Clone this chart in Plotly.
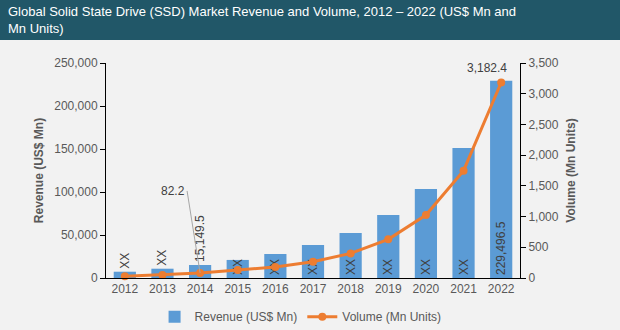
import plotly.graph_objects as go

years = ["2012", "2013", "2014", "2015", "2016", "2017", "2018", "2019", "2020", "2021", "2022"]
revenue = [7300, 10800, 15149.5, 21000, 27900, 38400, 52300, 73300, 103500, 151200, 229496.5]
volume = [30, 50, 82.2, 130, 180, 265, 400, 630, 1025, 1747, 3182.4]
revenue_labels = ["XX", "XX", "15,149.5", "XX", "XX", "XX", "XX", "XX", "XX", "XX", "229,496.5"]
revenue_label_pos = ["outside", "outside", "outside"] + ["inside"] * 8

rev_ticks = [0, 50000, 100000, 150000, 200000, 250000]
vol_ticks = [0, 500, 1000, 1500, 2000, 2500, 3000, 3500]

FONT = "Liberation Sans, Arial, sans-serif"
GREY = "#595959"
LABEL = "#404040"

fig = go.Figure()
fig.add_trace(go.Bar(
    x=years, y=revenue, name="Revenue (US$ Mn)",
    marker=dict(color="#5B9BD5", line=dict(width=0)),
    text=revenue_labels, textposition=revenue_label_pos,
    insidetextanchor="start", textangle=-90, constraintext="none",
    textfont=dict(family=FONT, size=12, color=LABEL),
    cliponaxis=False,
))
fig.add_trace(go.Scatter(
    x=years, y=volume, name="Volume (Mn Units)", yaxis="y2",
    mode="lines+markers",
    line=dict(color="#ED7D31", width=3),
    marker=dict(color="#ED7D31", size=8),
    cliponaxis=False,
))

# 82.2 label with leader line (category index of 2014)
i2014 = years.index("2014")
fig.add_annotation(
    x=i2014, y=volume[i2014], xref="x", yref="y2",
    text="82.2", showarrow=True, arrowhead=0, arrowwidth=1, arrowcolor="#A6A6A6",
    ax=-13, ay=-82, xanchor="right", yanchor="middle",
    font=dict(family=FONT, size=12, color=LABEL),
)
# 3,182.4 label above last point
i2022 = years.index("2022")
fig.add_annotation(
    x=i2022, y=volume[i2022], xref="x", yref="y2",
    text=f"{volume[i2022]:,.1f}", showarrow=False, xanchor="center", yanchor="bottom",
    xshift=-14, yshift=6,
    font=dict(family=FONT, size=12, color=LABEL),
)

# title banner
fig.add_shape(type="rect", xref="paper", yref="paper",
              x0=-0.3, x1=1.3, y0=1.107, y1=1.35,
              fillcolor="#215768", line=dict(width=0), layer="below")
fig.add_annotation(
    xref="paper", yref="paper", x=-106 / 414 + 6 / 414, y=1.2, xanchor="left", yanchor="middle",
    align="left", showarrow=False,
    text="Global Solid State Drive (SSD) Market Revenue and Volume, 2012 – 2022 (US$ Mn and<br>Mn Units)",
    font=dict(family=FONT, size=13, color="white"),
)

fig.update_layout(
    width=620, height=330,
    margin=dict(l=106, r=100, t=63, b=52, autoexpand=False),
    paper_bgcolor="#F2F2F2", plot_bgcolor="#F2F2F2",
    font=dict(family=FONT, size=12, color=GREY),
    bargap=0.41,
    showlegend=True,
    legend=dict(orientation="h", x=0.47, xanchor="center", y=-0.18, yanchor="middle",
                font=dict(family=FONT, size=12, color=GREY), bgcolor="rgba(0,0,0,0)",
                itemwidth=30),
    xaxis=dict(type="category", range=[-0.5, len(years) - 0.5], showgrid=False, showline=True,
               linecolor="#000000", linewidth=1, ticks="", tickfont=dict(size=12, color=GREY)),
    yaxis=dict(range=[0, 250000], tickvals=rev_ticks, tickformat=",", showgrid=False,
               showline=True, linecolor="#000000", linewidth=1, ticks="outside", ticklen=5,
               tickcolor="#000000", zeroline=False,
               title=dict(text="<b>Revenue (US$ Mn)</b>", font=dict(size=12, color=GREY), standoff=8)),
    yaxis2=dict(range=[0, 3500], tickvals=vol_ticks, tickformat=",", overlaying="y", side="right",
                showgrid=False, showline=True, linecolor="#000000", linewidth=1, ticks="outside",
                ticklen=5, tickcolor="#000000", zeroline=False,
                title=dict(text="<b>Volume (Mn Units)</b>", font=dict(size=12, color=GREY), standoff=8)),
)

fig.write_html("out.html")
